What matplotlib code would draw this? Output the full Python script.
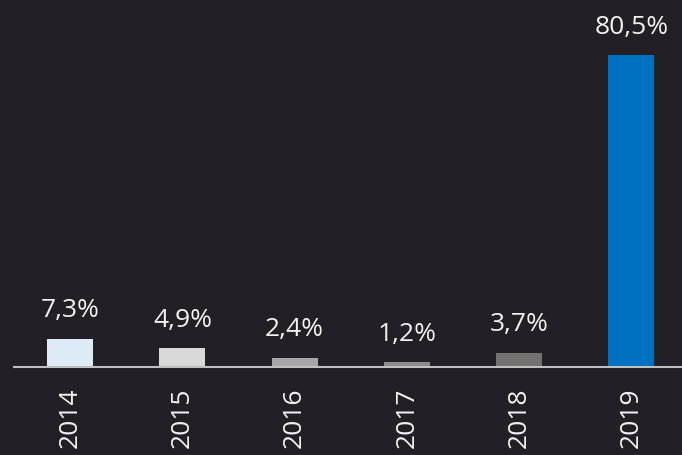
import matplotlib
matplotlib.use("Agg")
import matplotlib.pyplot as plt

years = ["2014", "2015", "2016", "2017", "2018", "2019"]
shares = [7.3, 4.9, 2.4, 1.2, 3.7, 80.5]
labels = ["7,3%", "4,9%", "2,4%", "1,2%", "3,7%", "80,5%"]
colors = ["#ddebf7", "#d9d9d9", "#a6a6a6", "#8c8c8c", "#767171", "#0070c0"]

bg = "#231f27"
plt.rcParams["font.family"] = ["Open Sans", "DejaVu Sans"]

fig = plt.figure(figsize=(6.82, 4.55), dpi=100, facecolor=bg)
ax = fig.add_axes([14 / 682, 88 / 455, 668 / 682, 367 / 455])
ax.set_facecolor(bg)

x = range(len(years))
bars = ax.bar(x, shares, width=0.41, color=colors)

for b, lab in zip(bars, labels):
    ax.annotate(lab, (b.get_x() + b.get_width() / 2, b.get_height()),
                xytext=(0, 11), textcoords="offset points",
                ha="center", va="bottom", fontsize=19, color="#f2f2f2")

ax.set_xlim(-0.5, 5.45)
ax.set_ylim(0, 94.7)
ax.set_xticks(list(x))
ax.set_xticklabels(years, rotation=90, fontsize=19, color="#f2f2f2")
ax.tick_params(axis="x", length=0, pad=15)
ax.set_yticks([])
for s in ["top", "right", "left"]:
    ax.spines[s].set_visible(False)
ax.spines["bottom"].set_color("#bfbfbf")
ax.spines["bottom"].set_linewidth(1.5)

fig.savefig("out.png", dpi=100, facecolor=bg)
